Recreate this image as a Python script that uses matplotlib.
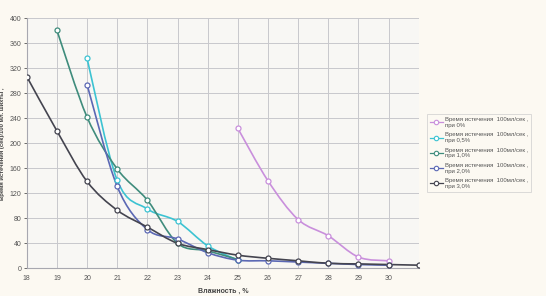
import numpy as np
import matplotlib
matplotlib.use("Agg")
import matplotlib.pyplot as plt
from matplotlib.path import Path
from matplotlib.patches import PathPatch
from matplotlib.lines import Line2D

plt.rcParams['font.family'] = ['Liberation Sans', 'DejaVu Sans']

# Data
x_0 = [25, 26, 27, 28, 29, 30]
y_0 = [224, 140, 78, 52, 18, 12]
x_05 = [20, 21, 22, 23, 24, 25]
y_05 = [336, 141, 95, 75, 36, 13]
x_10 = [19, 20, 21, 22, 23, 24, 25]
y_10 = [381, 242, 159, 109, 40, 28, 14]
x_20 = [20, 21, 22, 23, 24, 25, 26, 27, 28, 29, 30]
y_20 = [294, 131, 62, 47, 25, 13, 12, 10, 8, 6, 5]
x_30 = [18, 19, 20, 21, 22, 23, 24, 25, 26, 27, 28, 29, 30, 31]
y_30 = [307, 220, 139, 93, 66, 40, 30, 21, 16, 12, 8, 7, 6, 5]

labels = ["Время истечения  100мл/сек ,\nпри 0%",
          "Время истечения  100мл/сек ,\nпри 0,5%",
          "Время истечения  100мл/сек ,\nпри 1,0%",
          "Время истечения  100мл/сек ,\nпри 2,0%",
          "Время истечения  100мл/сек ,\nпри 3,0%"]
colors = ["#c98fdc", "#3cc3d2", "#3f8c7c", "#5b68b4", "#44444f"]
series = [(x_0, y_0), (x_05, y_05), (x_10, y_10), (x_20, y_20), (x_30, y_30)]

xticks = list(range(18, 31))
yticks = list(range(0, 401, 40))


def smooth_path(xs, ys):
    P = np.column_stack([xs, ys]).astype(float)
    n = len(P)
    verts = [P[0]]
    codes = [Path.MOVETO]
    for i in range(n - 1):
        p0 = P[i - 1] if i > 0 else P[i]
        p1 = P[i]
        p2 = P[i + 1]
        p3 = P[i + 2] if i + 2 < n else P[i + 1]
        c1 = p1 + (p2 - p0) / 6.0
        c2 = p2 - (p3 - p1) / 6.0
        verts += [c1, c2, p2]
        codes += [Path.CURVE4] * 3
    return Path(verts, codes)


fig = plt.figure(figsize=(5.46, 2.96), dpi=100, facecolor="#fcf9f2")
ax = fig.add_axes([0.049, 0.0936, 0.718, 0.844])
ax.set_facecolor("#f8f7f4")

for (xs, ys), c, lab in zip(series, colors, labels):
    patch = PathPatch(smooth_path(xs, ys), facecolor="none", edgecolor=c, lw=1.2, zorder=3)
    ax.add_patch(patch)
    ax.plot(xs, ys, linestyle="none", marker="o", ms=3.6, mfc="white", mec=c, mew=0.9, zorder=4)

ax.set_xlim(18, 31)
ax.set_ylim(0, 400)
ax.set_xticks(xticks)
ax.set_yticks(yticks)
ax.grid(True, color="#c8c8cc", lw=0.7)
ax.set_axisbelow(True)
for s in ["top", "right"]:
    ax.spines[s].set_visible(False)
for s in ["left", "bottom"]:
    ax.spines[s].set_color("#a8a8b0")
    ax.spines[s].set_linewidth(0.8)
ax.tick_params(axis="both", labelsize=5, colors="#555555", length=2, width=0.6, pad=2)
ax.tick_params(axis="x", length=0, pad=5)

ax.set_xlabel("Влажность , %", fontsize=5, fontweight="bold", color="#444444", labelpad=4)
ax.set_ylabel("Время истечения (сек)/100 мл. шихты ,", fontsize=4.2, fontweight="bold", color="#444444", labelpad=3)

handles = [Line2D([0], [0], color=c, lw=0.9, marker="o", ms=3.2, mfc="white", mec=c, mew=0.8) for c in colors]
leg = fig.legend(handles, labels, loc="upper left", bbox_to_anchor=(0.776, 0.625),
                 fontsize=4.3, frameon=True, fancybox=False, handlelength=2.2,
                 handletextpad=0.4, labelspacing=0.75, borderpad=0.5)
leg.get_frame().set_edgecolor("#cccccc")
leg.get_frame().set_linewidth(0.6)
leg.get_frame().set_facecolor("#fcf9f2")
for t in leg.get_texts():
    t.set_color("#555555")

fig.savefig("out.png", dpi=100, facecolor=fig.get_facecolor())
